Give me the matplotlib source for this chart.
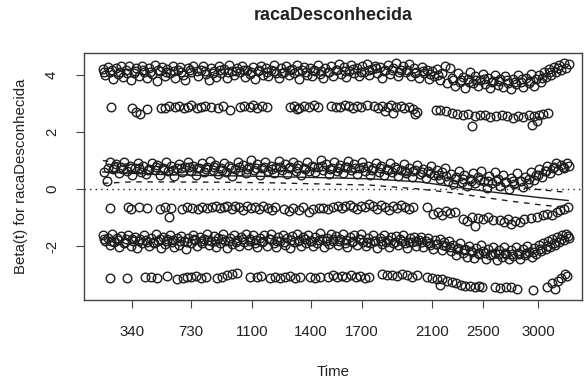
import numpy as np
import matplotlib
matplotlib.use("Agg")
import matplotlib.pyplot as plt

plt.rcParams["font.family"] = ["Liberation Sans", "DejaVu Sans"]

# x is the transformed (KM-scale) time, 0..~100; tick labels give real times
tick_pos = [6.3, 19.1, 32.3, 45.1, 56.2, 71.4, 82.4, 94.4]
tick_lab = ["340", "730", "1100", "1400", "1700", "2100", "2500", "3000"]

# scaled Schoenfeld residuals, one list per visible band: (x, beta)
band_a = [
    (0.0, 4.20), (0.5, 3.98), (1.1, 4.28), (1.6, 4.08), (2.2, 3.85), (2.8, 4.25), (3.3, 4.02), (3.9, 4.32),
    (4.4, 3.92), (5.0, 4.15), (5.6, 4.30), (6.1, 3.80), (6.7, 4.05), (7.2, 4.22), (7.8, 3.95), (8.4, 4.30),
    (8.9, 4.10), (9.5, 3.90), (10.0, 4.25), (10.6, 4.02), (11.2, 4.33), (11.7, 3.78), (12.3, 4.12), (12.9, 4.27),
    (13.4, 3.96), (14.0, 4.20), (14.5, 4.05), (15.1, 4.30), (15.7, 3.88), (16.2, 4.15), (16.8, 4.28), (17.3, 4.00),
    (17.9, 3.82), (18.5, 4.22), (19.0, 4.10), (19.6, 4.32), (20.7, 3.95), (21.2, 4.18), (21.8, 4.30), (22.4, 4.04),
    (22.9, 3.80), (23.5, 4.25), (24.0, 4.12), (24.6, 3.93), (25.2, 4.30), (25.7, 4.06), (26.3, 4.20), (26.9, 3.90),
    (27.4, 4.33), (28.0, 4.14), (28.5, 3.98), (29.1, 4.25), (29.7, 4.08), (30.2, 4.32), (30.8, 3.92), (31.3, 4.18),
    (31.9, 4.03), (32.5, 4.28), (33.0, 3.86), (33.6, 4.12), (34.2, 4.30), (34.7, 4.00), (35.3, 4.22), (35.9, 3.94),
    (36.4, 4.15), (37.0, 4.35), (37.5, 4.05), (38.1, 3.90), (38.7, 4.25), (39.2, 4.10), (39.8, 4.30), (40.4, 3.98),
    (40.9, 4.20), (41.5, 4.06), (42.1, 4.33), (42.6, 3.84), (43.2, 4.16), (43.7, 4.28), (44.3, 4.00), (44.9, 4.22),
    (45.4, 3.94), (46.0, 4.12), (46.6, 4.35), (47.1, 4.04), (47.7, 3.88), (48.2, 4.24), (48.8, 4.10), (49.4, 4.30),
    (49.9, 3.97), (50.5, 4.18), (51.1, 4.36), (51.6, 4.02), (52.2, 4.26), (52.8, 3.92), (53.3, 4.14), (53.9, 4.33),
    (54.4, 4.06), (55.0, 4.22), (55.6, 3.95), (56.1, 4.30), (56.7, 4.10), (57.3, 4.38), (57.8, 3.98), (58.4, 4.20),
    (58.9, 4.32), (59.5, 4.05), (60.1, 4.26), (60.6, 3.90), (61.2, 4.15), (61.8, 4.35), (62.3, 4.02), (62.9, 4.24),
    (63.5, 4.40), (64.0, 3.96), (64.6, 4.18), (65.1, 4.30), (65.7, 4.08), (66.3, 4.36), (66.8, 3.94), (67.4, 4.22),
    (68.0, 4.10), (68.5, 3.88), (69.1, 4.28), (69.6, 4.05), (70.2, 4.18), (70.8, 3.84), (71.3, 4.12), (71.9, 3.95),
    (72.5, 4.20), (73.0, 3.80), (73.6, 4.05), (74.1, 4.32), (74.7, 3.72), (75.2, 4.25), (75.8, 3.88), (76.3, 3.62),
    (76.9, 4.05), (77.4, 3.75), (78.0, 3.92), (78.5, 3.55), (79.1, 3.85), (79.6, 4.08), (80.2, 3.70), (80.7, 3.95),
    (81.3, 3.60), (81.8, 3.82), (82.4, 4.02), (82.9, 3.68), (83.5, 3.90), (84.0, 3.52), (84.6, 3.78), (85.1, 4.00),
    (85.7, 3.65), (86.2, 3.85), (86.8, 3.58), (87.3, 3.95), (87.9, 3.72), (88.4, 3.50), (89.0, 3.86), (89.5, 3.66),
    (90.1, 3.98), (90.6, 3.74), (91.2, 3.56), (91.7, 3.88), (92.3, 3.70), (92.8, 4.02), (93.4, 3.62), (93.9, 3.85),
    (94.5, 3.98), (95.0, 3.75), (95.6, 4.10), (96.1, 3.92), (96.7, 4.20), (97.2, 4.00), (97.8, 4.28), (98.3, 4.10),
    (98.9, 4.35), (99.4, 4.18), (100.0, 4.40), (100.5, 4.25), (101.0, 4.38),
    (0.3, 4.10), (1.9, 4.15), (3.6, 4.10), (5.3, 4.05), (7.0, 4.12), (8.6, 4.18), (10.3, 4.08), (12.0, 4.16),
    (13.7, 4.10), (15.4, 4.14), (17.0, 4.08), (18.8, 4.15), (20.4, 4.12), (22.1, 4.14), (23.8, 4.06), (25.5, 4.16),
    (27.1, 4.10), (28.8, 4.12), (30.5, 4.16), (32.2, 4.08), (33.9, 4.18), (35.6, 4.10), (37.2, 4.14), (38.9, 4.06),
    (40.6, 4.16), (42.3, 4.12), (44.0, 4.10), (45.7, 4.18), (47.4, 4.14), (49.0, 4.08), (50.8, 4.16), (52.5, 4.12),
    (54.2, 4.20), (55.9, 4.10), (57.6, 4.16), (59.2, 4.22), (60.9, 4.12), (62.6, 4.18), (64.3, 4.10), (66.0, 4.16),
    (67.7, 4.06), (69.4, 4.12), (71.0, 4.02), (72.7, 3.98), (76.0, 3.80), (77.7, 3.82), (79.4, 3.76), (81.0, 3.80),
    (82.7, 3.84), (84.3, 3.74), (86.0, 3.78), (87.6, 3.82), (89.3, 3.76), (90.9, 3.84), (92.6, 3.78), (95.3, 3.90),
    (97.0, 4.10), (98.6, 4.22),
]

band_b = [
    (1.8, 2.88), (6.3, 2.85), (7.2, 2.68), (8.0, 2.62), (9.6, 2.80), (12.6, 2.85), (13.5, 2.82), (14.4, 2.90),
    (15.6, 2.86), (16.5, 2.92), (17.5, 2.84), (18.4, 2.88), (19.2, 2.95), (20.3, 2.83), (21.3, 2.87), (22.2, 2.90),
    (23.5, 2.86), (25.0, 2.85), (26.0, 2.92), (27.5, 2.78), (29.8, 2.88), (30.7, 2.92), (31.8, 2.86), (32.6, 2.95),
    (33.5, 2.83), (34.6, 2.90), (35.5, 2.88), (40.5, 2.88), (41.5, 2.92), (42.2, 2.80), (42.6, 2.85), (43.6, 2.90),
    (44.8, 2.87), (45.8, 2.93), (46.7, 2.88), (49.5, 2.90), (50.5, 2.86), (51.5, 2.88), (52.4, 2.93), (53.3, 2.92),
    (54.2, 2.85), (55.2, 2.90), (56.0, 2.88), (57.3, 2.94), (58.8, 2.90), (59.7, 2.85), (60.6, 2.92), (61.2, 2.72),
    (61.8, 2.88), (62.5, 2.93), (63.0, 2.65), (63.5, 2.87), (64.6, 2.91), (65.3, 2.85), (66.4, 2.88), (67.3, 2.80),
    (67.7, 2.62), (68.1, 2.70), (72.3, 2.78), (73.2, 2.76), (74.5, 2.72), (75.6, 2.66), (76.8, 2.62), (78.0, 2.58),
    (79.2, 2.62), (80.0, 2.20), (80.6, 2.55), (81.7, 2.60), (82.9, 2.58), (84.0, 2.52), (85.3, 2.56), (86.5, 2.60),
    (87.7, 2.54), (88.9, 2.50), (90.0, 2.55), (91.2, 2.52), (92.3, 2.58), (93.0, 2.25), (93.5, 2.54), (94.2, 2.38),
    (94.5, 2.60), (95.5, 2.63), (96.5, 2.66),
]

band_c = [
    (0.2, 0.58), (0.8, 0.28), (1.5, 0.95), (2.2, 0.70), (2.8, 0.88), (3.4, 0.55), (4.0, 0.78), (4.6, 0.95),
    (5.2, 0.62), (5.8, 0.82), (6.4, 0.48), (7.0, 0.74), (7.6, 0.90), (8.2, 0.60), (8.8, 0.80), (9.4, 0.52),
    (10.0, 0.70), (10.6, 0.92), (11.2, 0.66), (11.8, 0.84), (12.4, 0.50), (13.0, 0.75), (13.6, 0.95), (14.2, 0.62),
    (14.8, 0.80), (15.4, 0.46), (16.0, 0.72), (16.6, 0.88), (17.2, 0.58), (17.8, 0.78), (18.4, 0.96), (19.0, 0.64),
    (19.6, 0.82), (20.2, 0.50), (20.8, 0.74), (21.4, 0.90), (22.0, 0.60), (22.6, 0.78), (23.2, 0.98), (23.8, 0.66),
    (24.4, 0.85), (25.0, 0.52), (25.6, 0.72), (26.2, 0.92), (26.8, 0.60), (27.4, 0.80), (28.0, 0.45), (28.6, 0.70),
    (29.2, 0.94), (29.8, 0.64), (30.4, 0.84), (31.0, 0.55), (31.6, 0.76), (32.2, 1.00), (32.8, 0.66), (33.4, 0.86),
    (34.0, 0.50), (34.6, 0.74), (35.2, 0.95), (35.8, 0.62), (36.4, 0.82), (37.0, 0.56), (37.6, 0.76), (38.2, 0.98),
    (38.8, 0.68), (39.4, 0.88), (40.0, 0.54), (40.6, 0.78), (41.2, 0.96), (41.8, 0.64), (42.4, 0.84), (43.0, 0.50),
    (43.6, 0.72), (44.2, 0.94), (44.8, 0.62), (45.4, 0.82), (46.0, 0.58), (46.6, 0.76), (47.2, 1.00), (47.8, 0.66),
    (48.4, 0.86), (49.0, 0.52), (49.6, 0.74), (50.2, 0.96), (50.8, 0.64), (51.4, 0.84), (52.0, 0.56), (52.6, 0.78),
    (53.2, 0.98), (53.8, 0.66), (54.4, 0.88), (55.0, 0.54), (55.6, 0.75), (56.2, 0.95), (56.8, 0.62), (57.4, 0.82),
    (58.0, 0.50), (58.6, 0.72), (59.2, 0.92), (59.8, 0.60), (60.4, 0.80), (61.0, 0.48), (61.6, 0.70), (62.2, 0.90),
    (62.8, 0.58), (63.4, 0.78), (64.0, 0.46), (64.6, 0.68), (65.2, 0.88), (65.8, 0.56), (66.4, 0.74), (67.0, 0.44),
    (67.6, 0.66), (68.2, 0.84), (68.8, 0.52), (69.4, 0.70), (70.0, 0.40), (70.6, 0.62), (71.2, 0.80), (71.8, 0.48),
    (72.4, 0.66), (73.0, 0.36), (73.6, 0.58), (74.2, 0.74), (74.8, 0.30), (75.4, 0.52), (76.0, 0.18), (76.6, 0.44),
    (77.2, 0.64), (77.8, 0.26), (78.4, 0.48), (79.0, 0.10), (79.6, 0.36), (80.2, 0.56), (80.8, 0.20), (81.4, 0.42),
    (82.0, 0.62), (82.6, 0.28), (83.2, 0.05), (83.8, 0.46), (84.4, 0.22), (85.0, 0.58), (85.6, 0.34), (86.2, 0.12),
    (86.8, 0.50), (87.4, 0.26), (88.0, 0.02), (88.6, 0.40), (89.2, 0.18), (89.8, 0.55), (90.4, 0.30), (91.0, 0.08),
    (91.6, 0.44), (92.2, 0.20), (92.8, 0.60), (93.4, 0.32), (94.0, 0.50), (94.6, 0.70), (95.2, 0.42), (95.8, 0.62),
    (96.4, 0.80), (97.0, 0.55), (97.6, 0.74), (98.2, 0.90), (98.8, 0.66), (99.4, 0.85), (100.0, 0.72), (100.6, 0.92),
    (101.1, 0.80),
    (1.0, 0.72), (2.5, 0.76), (4.3, 0.70), (6.1, 0.72), (7.9, 0.74), (9.7, 0.68), (11.5, 0.76), (13.3, 0.70),
    (15.1, 0.66), (16.9, 0.74), (18.7, 0.78), (20.5, 0.72), (22.3, 0.70), (24.1, 0.76), (25.9, 0.68), (27.7, 0.74),
    (29.5, 0.78), (31.3, 0.70), (33.1, 0.74), (34.9, 0.76), (36.7, 0.70), (38.5, 0.78), (40.3, 0.72), (42.1, 0.74),
    (43.9, 0.70), (45.7, 0.76), (47.5, 0.80), (49.3, 0.70), (51.1, 0.74), (52.9, 0.78), (54.7, 0.72), (56.5, 0.76),
    (58.3, 0.68), (60.1, 0.72), (61.9, 0.66), (63.7, 0.70), (65.5, 0.64), (67.3, 0.62), (69.1, 0.58), (70.9, 0.56),
    (72.7, 0.50), (74.5, 0.46), (76.3, 0.34), (78.1, 0.36), (79.9, 0.30), (81.7, 0.32), (83.5, 0.28), (85.3, 0.30),
    (87.1, 0.26), (88.9, 0.30), (90.7, 0.28), (92.5, 0.36), (94.3, 0.48), (96.1, 0.64), (97.9, 0.76), (99.7, 0.78),
]

band_d = [
    (1.5, -0.66), (5.4, -0.64), (6.2, -0.68), (7.8, -0.62), (9.5, -0.65), (12.4, -0.70), (13.4, -0.64), (14.3, -0.98),
    (14.8, -0.66), (17.1, -0.68), (18.3, -0.64), (19.4, -0.66), (20.6, -0.70), (21.5, -0.62), (22.5, -0.66), (23.6, -0.64),
    (24.5, -0.60), (25.4, -0.66), (26.2, -0.62), (27.0, -0.58), (27.9, -0.68), (28.7, -0.60), (29.6, -0.64), (30.4, -0.72),
    (31.3, -0.58), (32.1, -0.66), (33.0, -0.62), (33.9, -0.70), (34.8, -0.60), (35.7, -0.66), (36.6, -0.74), (37.4, -0.62),
    (39.2, -0.70), (40.4, -0.78), (41.3, -0.66), (42.5, -0.72), (43.5, -0.64), (44.6, -0.80), (45.6, -0.68), (46.8, -0.66),
    (47.8, -0.66), (48.8, -0.68), (50.0, -0.62), (51.0, -0.58), (51.8, -0.66), (52.6, -0.60), (53.5, -0.54), (54.3, -0.62),
    (55.2, -0.70), (56.0, -0.58), (56.9, -0.64), (57.8, -0.52), (58.6, -0.60), (59.4, -0.68), (60.3, -0.56), (61.2, -0.62),
    (62.0, -0.74), (62.9, -0.58), (63.8, -0.66), (64.6, -0.56), (65.5, -0.64), (66.4, -0.70), (67.3, -0.62), (70.3, -0.62),
    (71.6, -0.86), (72.6, -0.80), (73.5, -0.90), (74.3, -0.78), (75.2, -0.84), (76.4, -0.80), (78.0, -1.05), (79.0, -1.10),
    (80.0, -0.96), (80.6, -1.30), (81.4, -1.02), (82.5, -1.06), (83.6, -0.98), (84.5, -1.08), (86.2, -1.08), (87.0, -1.16),
    (87.8, -1.04), (88.6, -1.22), (89.4, -1.10), (90.4, -1.14), (91.4, -1.06), (92.8, -1.02), (94.2, -0.98), (95.4, -0.92),
    (96.4, -0.86), (97.4, -0.90), (98.4, -0.80), (99.2, -0.74), (99.9, -0.68), (100.8, -0.62),
]

band_e = [
    (0.0, -1.62), (0.5, -1.80), (1.0, -1.70), (1.5, -1.95), (2.0, -1.58), (2.5, -1.85), (3.0, -1.72), (3.5, -2.02),
    (4.0, -1.64), (4.5, -1.90), (5.0, -1.76), (5.5, -1.60), (6.0, -1.98), (6.5, -1.82), (7.0, -1.66), (7.5, -2.05),
    (8.0, -1.74), (8.5, -1.90), (9.0, -1.62), (9.5, -1.84), (10.0, -2.00), (10.5, -1.70), (11.0, -1.88), (11.5, -1.58),
    (12.0, -1.80), (12.5, -2.06), (13.0, -1.68), (13.5, -1.92), (14.0, -1.76), (14.5, -1.60), (15.0, -1.86), (15.5, -2.02),
    (16.0, -1.72), (16.5, -1.94), (17.0, -1.64), (17.5, -1.82), (18.0, -2.08), (18.5, -1.70), (19.0, -1.88), (19.5, -1.60),
    (20.0, -1.78), (20.5, -2.00), (21.0, -1.66), (21.5, -1.90), (22.0, -1.74), (22.5, -1.56), (23.0, -1.96), (23.5, -1.80),
    (24.0, -1.64), (24.5, -2.04), (25.0, -1.72), (25.5, -1.88), (26.0, -1.58), (26.5, -1.82), (27.0, -2.06), (27.5, -1.70),
    (28.0, -1.92), (28.5, -1.62), (29.0, -1.78), (29.5, -2.00), (30.0, -1.68), (30.5, -1.86), (31.0, -1.56), (31.5, -1.96),
    (32.0, -1.74), (32.5, -1.60), (33.0, -1.90), (33.5, -2.04), (34.0, -1.70), (34.5, -1.84), (35.0, -1.62), (35.5, -1.98),
    (36.0, -1.76), (36.5, -1.58), (37.0, -1.88), (37.5, -2.02), (38.0, -1.66), (38.5, -1.82), (39.0, -1.60), (39.5, -1.94),
    (40.0, -1.72), (40.5, -2.06), (41.0, -1.64), (41.5, -1.86), (42.0, -1.56), (42.5, -1.78), (43.0, -2.00), (43.5, -1.68),
    (44.0, -1.90), (44.5, -1.60), (45.0, -1.80), (45.5, -1.98), (46.0, -1.66), (46.5, -1.88), (47.0, -1.54), (47.5, -1.76),
    (48.0, -2.02), (48.5, -1.70), (49.0, -1.92), (49.5, -1.58), (50.0, -1.82), (50.5, -1.64), (51.0, -1.96), (51.5, -1.74),
    (52.0, -1.56), (52.5, -1.88), (53.0, -2.04), (53.5, -1.68), (54.0, -1.84), (54.5, -1.60), (55.0, -1.94), (55.5, -1.76),
    (56.0, -1.58), (56.5, -1.86), (57.0, -2.00), (57.5, -1.70), (58.0, -1.90), (58.5, -1.62), (59.0, -1.80), (59.5, -2.06),
    (60.0, -1.72), (60.5, -1.92), (61.0, -1.60), (61.5, -1.84), (62.0, -2.02), (62.5, -1.68), (63.0, -1.88), (63.5, -1.64),
    (64.0, -1.96), (64.5, -1.76), (65.0, -1.62), (65.5, -1.90), (66.0, -2.06), (66.5, -1.72), (67.0, -1.86), (67.5, -1.66),
    (68.0, -1.98), (68.5, -1.78), (69.0, -1.68), (69.5, -2.04), (70.0, -1.82), (70.5, -1.70), (71.0, -1.96), (71.5, -2.10),
    (72.0, -1.78), (72.5, -1.92), (73.0, -1.74), (73.5, -2.12), (74.0, -1.86), (74.5, -2.00), (75.0, -1.80), (75.5, -2.18),
    (76.0, -1.96), (76.5, -2.30), (77.0, -2.05), (77.5, -1.88), (78.0, -2.24), (78.5, -2.10), (79.0, -2.36), (79.5, -1.98),
    (80.0, -2.20), (80.5, -2.42), (81.0, -2.06), (81.5, -2.28), (82.0, -1.96), (82.5, -2.18), (83.0, -2.44), (83.5, -2.10),
    (84.0, -2.32), (84.5, -2.02), (85.0, -2.24), (85.5, -2.48), (86.0, -2.12), (86.5, -2.36), (87.0, -2.04), (87.5, -2.26),
    (88.0, -2.46), (88.5, -2.14), (89.0, -2.34), (89.5, -2.02), (90.0, -2.22), (90.5, -2.44), (91.0, -2.10), (91.5, -2.30),
    (92.0, -1.98), (92.5, -2.20), (93.0, -2.38), (93.5, -2.06), (94.0, -2.26), (94.5, -1.96), (95.0, -2.16), (95.5, -1.90),
    (96.0, -2.10), (96.5, -1.82), (97.0, -2.02), (97.5, -1.74), (98.0, -1.94), (98.5, -1.66), (99.0, -1.86), (99.5, -1.60),
    (100.0, -1.78), (100.5, -1.58), (101.0, -1.70),
    (0.2, -1.75), (1.8, -1.80), (3.3, -1.78), (4.8, -1.84), (6.3, -1.74), (7.8, -1.80), (9.3, -1.78), (10.8, -1.84),
    (12.3, -1.76), (13.8, -1.82), (15.3, -1.78), (16.8, -1.80), (18.3, -1.84), (19.8, -1.76), (21.3, -1.80), (22.8, -1.78),
    (24.3, -1.82), (25.8, -1.74), (27.3, -1.80), (28.8, -1.84), (30.3, -1.76), (31.8, -1.80), (33.3, -1.78), (34.8, -1.82),
    (36.3, -1.76), (37.8, -1.80), (39.3, -1.84), (40.8, -1.78), (42.3, -1.80), (43.8, -1.76), (45.3, -1.82), (46.8, -1.78),
    (48.3, -1.80), (49.8, -1.74), (51.3, -1.82), (52.8, -1.78), (54.3, -1.80), (55.8, -1.76), (57.3, -1.84), (58.8, -1.80),
    (60.3, -1.82), (61.8, -1.78), (63.3, -1.84), (64.8, -1.80), (66.3, -1.86), (67.8, -1.82), (69.3, -1.86), (70.8, -1.88),
    (72.3, -1.92), (73.8, -1.94), (75.3, -2.02), (76.8, -2.10), (78.3, -2.14), (79.8, -2.18), (81.3, -2.22), (82.8, -2.24),
    (84.3, -2.26), (85.8, -2.28), (87.3, -2.24), (88.8, -2.26), (90.3, -2.28), (91.8, -2.22), (93.3, -2.20), (94.8, -2.10),
    (96.3, -2.00), (97.8, -1.88), (99.3, -1.76), (100.8, -1.64),
]

band_f = [
    (1.5, -3.10), (5.2, -3.10), (9.1, -3.08), (10.4, -3.06), (11.7, -3.12), (13.9, -3.05), (16.1, -3.14), (17.3, -3.10),
    (18.3, -3.06), (19.2, -3.08), (20.2, -3.04), (21.3, -3.10), (22.4, -3.06), (24.7, -3.12), (25.8, -3.06), (26.9, -3.02),
    (28.0, -2.98), (29.1, -2.92), (31.9, -3.08), (33.4, -3.08), (34.2, -3.04), (36.2, -3.10), (37.3, -3.06), (38.4, -3.12),
    (39.5, -3.08), (40.6, -3.04), (41.7, -3.10), (42.7, -3.08), (44.9, -3.08), (46.0, -3.10), (47.1, -3.06), (48.8, -3.06),
    (49.8, -3.02), (50.8, -3.08), (51.8, -3.04), (52.8, -3.06), (53.8, -3.00), (54.8, -3.08), (55.8, -3.04), (56.8, -3.10),
    (57.8, -3.06), (60.5, -2.98), (61.6, -3.02), (62.7, -3.00), (63.8, -3.04), (64.9, -2.98), (66.0, -3.02), (67.1, -3.06),
    (68.1, -3.00), (70.3, -3.08), (71.4, -3.10), (72.4, -3.16), (73.1, -3.36), (73.6, -3.14), (74.6, -3.22), (75.6, -3.26),
    (76.6, -3.30), (77.6, -3.34), (78.6, -3.38), (79.6, -3.40), (80.6, -3.44), (81.6, -3.40), (82.2, -3.44), (85.0, -3.42),
    (86.2, -3.46), (87.4, -3.42), (88.6, -3.44), (89.8, -3.48), (93.3, -3.52), (96.3, -3.44), (97.4, -3.30), (98.1, -3.50),
    (98.6, -3.20), (99.4, -3.10), (100.2, -2.98), (100.7, -3.04),
]

# smoothed beta(t) and +/- 2 se band
fit_x = [0.0, 5.9, 14.5, 25.4, 36.2, 47.1, 57.9, 68.8, 75.3, 81.8, 88.3, 94.8, 100.9]
fit_mid = [0.60, 0.55, 0.50, 0.47, 0.44, 0.40, 0.36, 0.25, 0.10, -0.05, -0.18, -0.30, -0.40]
fit_hi = [1.00, 0.85, 0.75, 0.70, 0.66, 0.62, 0.58, 0.50, 0.35, 0.20, 0.08, -0.02, -0.12]
fit_lo = [0.20, 0.25, 0.25, 0.24, 0.22, 0.18, 0.14, 0.00, -0.12, -0.27, -0.42, -0.55, -0.65]

fig = plt.figure(figsize=(5.85, 3.87), dpi=100)
ax = fig.add_axes([84 / 585, 87 / 387, 498 / 585, 247 / 387])

ink = "#1e1e1e"
for band in [band_a, band_b, band_c, band_d, band_e, band_f]:
    bx, by = zip(*band)
    ax.plot(bx, by, "o", ms=6.2, mfc="none", mec=ink, mew=1.0)

ax.plot(fit_x, fit_mid, "-", color=ink, lw=1.0)
ax.plot(fit_x, fit_hi, "--", color=ink, lw=1.0, dashes=(4, 4))
ax.plot(fit_x, fit_lo, "--", color=ink, lw=1.0, dashes=(4, 4))
ax.axhline(0, color=ink, lw=1.0, ls=(0, (1, 3)))

ax.set_xlim(-4.1, 103.9)
ax.set_ylim(-3.88, 4.76)
ax.set_xticks(tick_pos)
ax.set_xticklabels(tick_lab)
ax.set_yticks([-2, 0, 2, 4])
ax.set_yticklabels(["-2", "0", "2", "4"], rotation=90, va="center")
ax.tick_params(direction="out", length=6, width=0.8, colors="#444444",
               labelcolor="#222222", labelsize=10.8, pad=12)
for s in ax.spines.values():
    s.set_linewidth(1.0)
    s.set_color("#444444")

ax.set_xlabel("Time", fontsize=10.8, color="#222222", labelpad=19)
ax.set_ylabel("Beta(t) for racaDesconhecida", fontsize=10.8, color="#222222", labelpad=12)
fig.text(333 / 585, 1 - 15 / 387, "racaDesconhecida", ha="center", va="center",
         fontsize=13, fontweight="bold", color="#222222")

fig.savefig("out.png", dpi=100)
